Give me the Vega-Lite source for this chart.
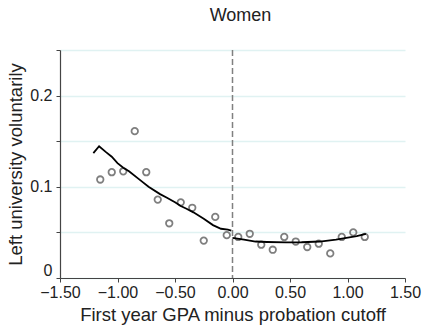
{
  "$schema": "https://vega.github.io/schema/vega-lite/v6.json",
  "width": 345,
  "height": 228,
  "autosize": "none",
  "padding": {"left": 60, "top": 50, "right": 18, "bottom": 49},
  "background": "white",
  "title": {"text": "Women", "fontSize": 18, "font": "Liberation Sans", "fontWeight": "normal", "color": "#222", "anchor": "middle", "dx": 8, "offset": 24},
  "datasets": {
    "bins": [
      {"x": -1.15, "y": 0.108}, {"x": -1.05, "y": 0.116}, {"x": -0.95, "y": 0.117},
      {"x": -0.85, "y": 0.161}, {"x": -0.75, "y": 0.116}, {"x": -0.65, "y": 0.086},
      {"x": -0.55, "y": 0.060}, {"x": -0.45, "y": 0.083}, {"x": -0.35, "y": 0.077},
      {"x": -0.25, "y": 0.041}, {"x": -0.15, "y": 0.067}, {"x": -0.05, "y": 0.047},
      {"x": 0.05, "y": 0.045}, {"x": 0.15, "y": 0.0485}, {"x": 0.25, "y": 0.0365},
      {"x": 0.35, "y": 0.031}, {"x": 0.45, "y": 0.045}, {"x": 0.55, "y": 0.040},
      {"x": 0.65, "y": 0.034}, {"x": 0.75, "y": 0.0376}, {"x": 0.85, "y": 0.027},
      {"x": 0.95, "y": 0.045}, {"x": 1.05, "y": 0.050}, {"x": 1.15, "y": 0.045}
    ],
    "fit": [
      {"side": "L", "x": -1.21, "y": 0.137}, {"side": "L", "x": -1.16, "y": 0.1445},
      {"side": "L", "x": -1.10, "y": 0.138}, {"side": "L", "x": -1.05, "y": 0.133},
      {"side": "L", "x": -1.00, "y": 0.126}, {"side": "L", "x": -0.95, "y": 0.121},
      {"side": "L", "x": -0.90, "y": 0.117}, {"side": "L", "x": -0.80, "y": 0.107},
      {"side": "L", "x": -0.73, "y": 0.100}, {"side": "L", "x": -0.63, "y": 0.092},
      {"side": "L", "x": -0.57, "y": 0.088}, {"side": "L", "x": -0.50, "y": 0.083},
      {"side": "L", "x": -0.45, "y": 0.079}, {"side": "L", "x": -0.40, "y": 0.076},
      {"side": "L", "x": -0.34, "y": 0.072}, {"side": "L", "x": -0.25, "y": 0.065},
      {"side": "L", "x": -0.17, "y": 0.058}, {"side": "L", "x": -0.10, "y": 0.054},
      {"side": "L", "x": -0.04, "y": 0.053}, {"side": "L", "x": -0.01, "y": 0.052},
      {"side": "R", "x": 0.00, "y": 0.044}, {"side": "R", "x": 0.10, "y": 0.042},
      {"side": "R", "x": 0.20, "y": 0.040}, {"side": "R", "x": 0.30, "y": 0.0395},
      {"side": "R", "x": 0.47, "y": 0.039}, {"side": "R", "x": 0.60, "y": 0.0392},
      {"side": "R", "x": 0.76, "y": 0.040}, {"side": "R", "x": 0.90, "y": 0.042},
      {"side": "R", "x": 0.99, "y": 0.044}, {"side": "R", "x": 1.08, "y": 0.046},
      {"side": "R", "x": 1.16, "y": 0.0485}
    ],
    "cutoff": [{"x": 0}]
  },
  "layer": [
    {
      "data": {"name": "bins"},
      "mark": {"type": "point", "shape": "circle", "filled": false, "stroke": "#7f7f7f", "strokeWidth": 1.8, "size": 42, "opacity": 1},
      "encoding": {
        "x": {"field": "x", "type": "quantitative",
              "scale": {"domain": [-1.5, 1.5], "nice": false, "zero": false},
              "axis": {"values": [-1.5, -1, -0.5, 0, 0.5, 1, 1.5], "format": ".2f", "grid": false,
                       "title": "First year GPA minus probation cutoff",
                       "titleFontSize": 18.5, "titleFontWeight": "normal", "titleFont": "Liberation Sans", "titleColor": "#222", "titlePadding": 5,
                       "labelFontSize": 16, "labelFont": "Liberation Sans", "labelColor": "#222", "labelPadding": 2,
                       "tickSize": 4, "tickColor": "#444", "domainColor": "#444", "domainWidth": 1.2, "labelFlush": false, "labelOverlap": false}},
        "y": {"field": "y", "type": "quantitative",
              "scale": {"domain": [0, 0.25], "nice": false},
              "axis": {"values": [0, 0.05, 0.1, 0.15, 0.2, 0.25],
                       "labelExpr": "round(datum.value*100) % 10 == 0 ? format(datum.value, '~g') : ''",
                       "labelFlush": true, "labelFlushOffset": 0,
                       "grid": true, "gridColor": "#e0f2f2", "gridWidth": 1.5,
                       "title": "Left university voluntarily",
                       "titleFontSize": 18.5, "titleFontWeight": "normal", "titleFont": "Liberation Sans", "titleColor": "#222", "titlePadding": 4,
                       "labelFontSize": 16, "labelFont": "Liberation Sans", "labelColor": "#222", "labelPadding": 4,
                       "tickSize": 4, "tickColor": "#444", "domainColor": "#444", "domainWidth": 1.2}}
      }
    },
    {
      "data": {"name": "fit"},
      "mark": {"type": "line", "color": "#000", "strokeWidth": 1.8},
      "encoding": {
        "x": {"field": "x", "type": "quantitative"},
        "y": {"field": "y", "type": "quantitative"},
        "detail": {"field": "side"}
      }
    },
    {
      "data": {"name": "cutoff"},
      "mark": {"type": "rule", "color": "#808080", "strokeWidth": 1.5, "strokeDash": [6, 3]},
      "encoding": {
        "x": {"field": "x", "type": "quantitative"}
      }
    }
  ],
  "config": {"view": {"stroke": null}}
}
